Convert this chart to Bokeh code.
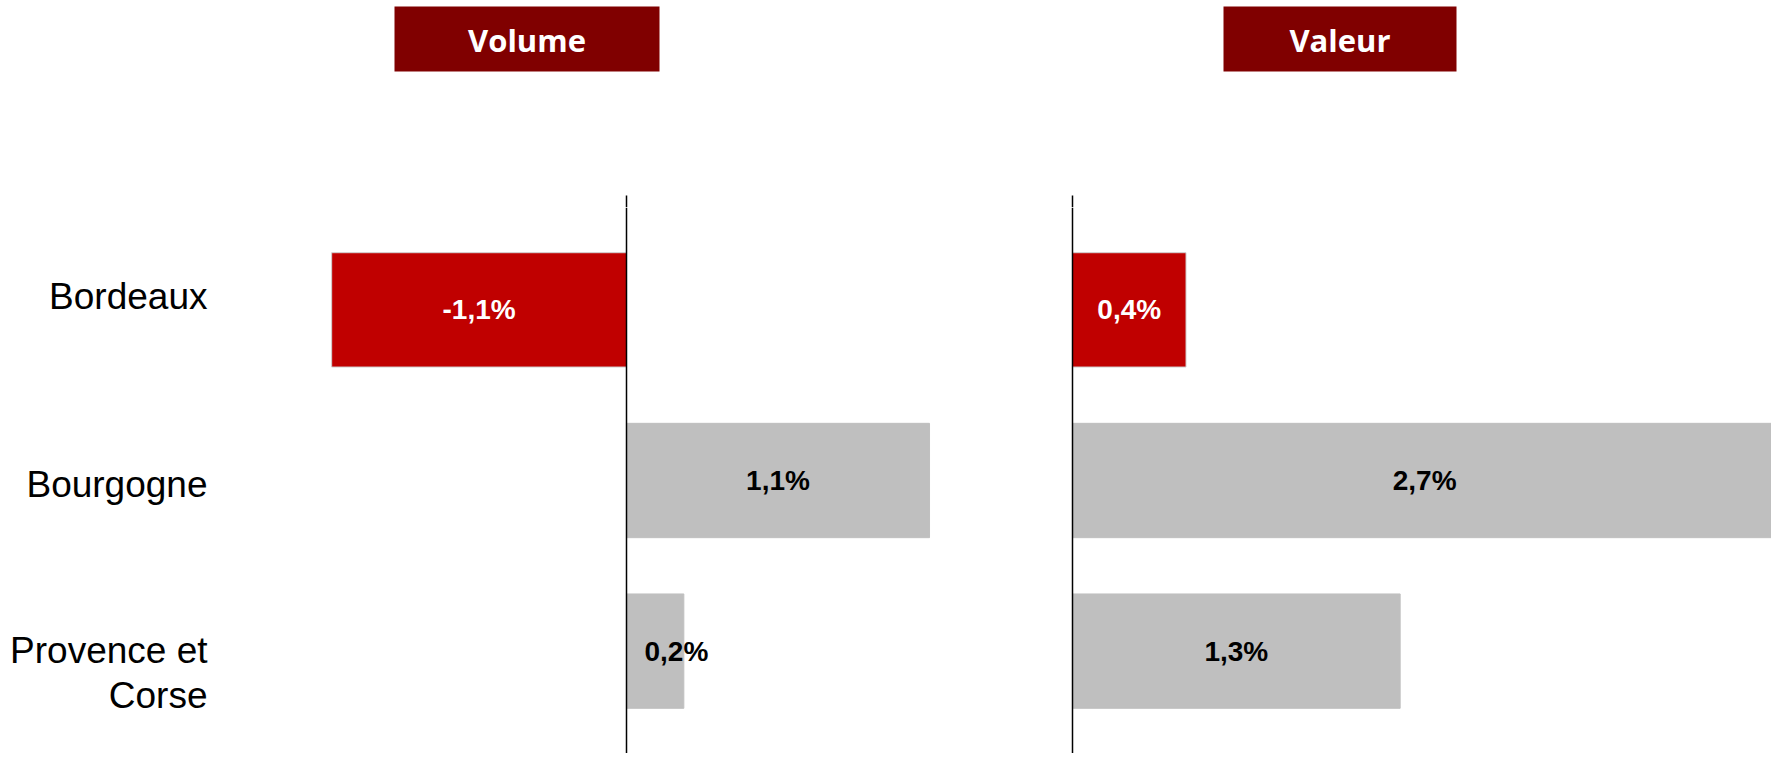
from bokeh.plotting import figure
from bokeh.models import Range1d, FactorRange, Span, ColumnDataSource
from bokeh.layouts import column
from bokeh.embed import file_html
from bokeh.resources import INLINE
from bokeh.core.properties import value

# ---- data ----
categories = ["Bordeaux", "Bourgogne", "Provence et Corse"]
category_labels = ["Bordeaux", "Bourgogne", "Provence et\nCorse"]
volume = [-1.08, 1.11, 0.21]
valeur = [0.44, 2.73, 1.27]
highlight = [True, False, False]
panel_titles = ["Volume", "Valeur"]

# ---- layout constants ----
W = 1771
HEAD_H = 207
CHART_H = 546
VOL_ZERO, VOL_PX = 626, 273
VAL_ZERO, VAL_PX = 1072, 258
RED, GREY, MAROON = "#C00000", "#BFBFBF", "#800000"
SANS = value("Liberation Sans")


def fmt(v):
    return f"{v:.1f}".replace(".", ",") + "%"


# ---- header figure ----
head = figure(width=W, height=HEAD_H, x_range=Range1d(0, W), y_range=Range1d(HEAD_H, 0),
              output_backend="svg", toolbar_location=None, min_border=0)
head.axis.visible = False
head.grid.visible = False
head.outline_line_color = None
box_l, box_r = [394, 1223], [659, 1456]
head.quad(left=box_l, right=box_r, top=[6, 6], bottom=[71, 71],
          fill_color=MAROON, line_color=None)
head.text(x=[(a + b) / 2 for a, b in zip(box_l, box_r)], y=[39, 39], text=panel_titles,
          text_align="center", text_baseline="middle", text_color="white",
          text_font=value("Open Sans"), text_font_style="bold", text_font_size="31px")
head.segment(x0=[VOL_ZERO, VAL_ZERO], x1=[VOL_ZERO, VAL_ZERO], y0=[195, 195], y1=[HEAD_H, HEAD_H],
             line_color="black", line_width=1.5)

# ---- chart figure ----
x_vol = Range1d(-VOL_ZERO / VOL_PX, (W - VOL_ZERO) / VOL_PX)
x_val = Range1d(-VAL_ZERO / VAL_PX, (W - VAL_ZERO) / VAL_PX)
chart = figure(width=W, height=CHART_H, x_range=x_vol,
               y_range=FactorRange(factors=categories[::-1], range_padding=0.1,
                                   range_padding_units="absolute"),
               output_backend="svg", toolbar_location=None, min_border=0)
chart.extra_x_ranges = {"valeur": x_val}
chart.axis.visible = False
chart.grid.visible = False
chart.outline_line_color = None

colors = [RED if h else GREY for h in highlight]
lines = ["#D0D0D0" if h else GREY for h in highlight]
txt_colors = ["white" if h else "black" for h in highlight]


def panel(vals, range_name, px_per):
    src = ColumnDataSource(dict(cat=categories, v=vals, color=colors, line=lines))
    kw = {} if range_name is None else {"x_range_name": range_name}
    chart.hbar(y="cat", left=0, right="v", height=0.67, fill_color="color",
               line_color="line", line_width=1, source=src, **kw)
    lx, la, lo = [], [], []
    for v in vals:
        if abs(v) * px_per < 80:
            lx.append(0); la.append("left"); lo.append(18)
        else:
            lx.append(v / 2); la.append("center"); lo.append(0)
    lsrc = ColumnDataSource(dict(cat=categories, x=lx, align=la, off=lo,
                                 text=[fmt(v) for v in vals], tc=txt_colors))
    chart.text(x="x", y="cat", text="text", text_align="align", x_offset="off",
               text_baseline="middle", text_color="tc", text_font=SANS,
               text_font_style="bold", text_font_size="28px", source=lsrc, **kw)
    chart.add_layout(Span(location=0, dimension="height", line_color="black",
                          line_width=1.5, **kw))


panel(volume, None, VOL_PX)
panel(valeur, "valeur", VAL_PX)

# category labels sit on their own, slightly wider spacing than the bars
label_dy = [(i - 1) * 17.5 + 4 for i in range(len(categories))]
chart.text(x=[x_vol.start] * 3, y=categories, text=category_labels, x_offset=207,
           y_offset=label_dy, text_align="right", text_baseline="middle",
           text_color="black", text_font=SANS, text_font_size="37px", text_line_height=1.1)

layout = column(head, chart, spacing=0)
open("out.html", "w").write(file_html(layout, INLINE))
